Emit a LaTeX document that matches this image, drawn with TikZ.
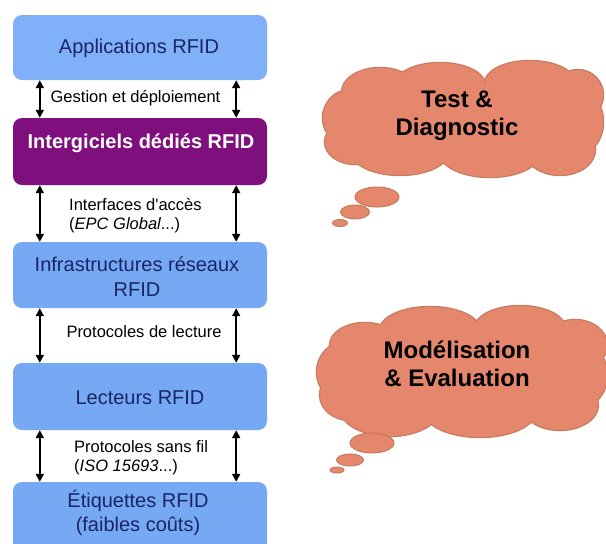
\documentclass[tikz,border=0pt]{standalone}
\usepackage{fontspec}
\setmainfont{Liberation Sans}
\usetikzlibrary{arrows.meta,shapes.geometric}
\definecolor{boxblue}{HTML}{76A9F4}
\definecolor{boxblueA}{HTML}{80B0F8}
\definecolor{boxpurple}{HTML}{7E0F7C}
\definecolor{boxtext}{HTML}{1C2466}
\definecolor{cloudfill}{HTML}{E5876D}
\definecolor{cloudline}{HTML}{C8795E}
\tikzset{
  box/.style={draw=none, fill=boxblue, rounded corners=9pt, minimum width=254pt, inner sep=0pt},
  boxtxt/.style={text=boxtext, font=\fontsize{20}{24}\selectfont, align=center, inner sep=0pt},
  boldtxt/.style={text=white, font=\fontsize{20}{24}\selectfont\bfseries, inner sep=0pt},
  lbl/.style={text=black, font=\fontsize{16.5}{19}\selectfont, inner sep=0pt},
  dbl/.style={{Triangle[width=8pt,length=8pt]}-{Triangle[width=8pt,length=8pt]}, line width=1.8pt, black},
  puffline/.style={draw=cloudline, line width=2.4pt},
  pufffill/.style={fill=cloudfill},
  bubble/.style={ellipse, fill=cloudfill, draw=cloudline, line width=1pt, inner sep=0pt},
  cloudtxt/.style={text=black, font=\fontsize{24}{28}\selectfont\bfseries, align=center, inner sep=0pt}
}
\begin{document}
\begin{tikzpicture}[x=1pt,y=-1pt]
\clip (0,0) rectangle (606,544);
\fill[white] (0,0) rectangle (606,544);
% boxes
\node[box, fill=boxblueA, minimum height=65pt] (app) at (140,47.5) {};
\node[box, fill=boxpurple, minimum height=67pt] (mid) at (140,151.5) {};
\node[box, minimum height=66pt] (infra) at (140,275) {};
\node[box, minimum height=67pt] (lect) at (140,396.5) {};
\node[box, minimum height=80pt] (etiq) at (140,522) {};
% box texts
\node[boxtxt] (tapp) at (139,48) {Applications RFID};
\node[boldtxt] (tmid) at (141,143) {Intergiciels dédiés RFID};
\node[boxtxt] (tinfra) at (137,276.5) {Infrastructures réseaux\\[1pt]RFID};
\node[boxtxt] (tlect) at (140,398) {Lecteurs RFID};
\node[boxtxt] (tetiq) at (138,512.5) {Étiquettes RFID\\[0pt](faibles coûts)};
% arrows
\foreach \a/\b in {app/mid, mid/infra, infra/lect, lect/etiq}{
  \draw[dbl] ([xshift=27pt]\a.south west) -- ([xshift=27pt]\b.north west);
  \draw[dbl] ([xshift=-31pt]\a.south east) -- ([xshift=-31pt]\b.north east);
}
% arrow labels
\node[lbl] (l1) at (135.5,98.5) {Gestion et déploiement};
\node[lbl, anchor=west, align=left] (l2) at (69,216) {Interfaces d\textquotesingle accès\\[0pt](\textit{EPC Global}...)};
\node[lbl] (l3) at (144,332) {Protocoles de lecture};
\node[lbl, anchor=west, align=left] (l4) at (74,457.5) {Protocoles sans fil\\[0pt](\textit{ISO 15693}...)};
% cloud 1 (union of puffs: outline pass, then fill pass)
\def\cloudA{350/118/27/28, 380/92/38/24, 440/85/45/22, 530/83/45/22, 578/95/25/25, 582/122/21/30, 560/150/35/25, 490/153/50/24, 400/150/50/25, 355/142/30/22}
\def\cloudB{345/372/28/30, 365/345/35/22, 430/330/50/23, 520/328/45/22, 575/345/32/25, 585/375/22/30, 560/405/38/25, 480/412/55/25, 390/408/50/28, 350/395/30/25}
\foreach \x/\y/\rx/\ry in \cloudA {\path[puffline] (\x,\y) ellipse [x radius=\rx, y radius=\ry];}
\foreach \x/\y/\rx/\ry in \cloudA {\path[pufffill] (\x,\y) ellipse [x radius=\rx, y radius=\ry];}
\fill[cloudfill] (345,85) rectangle (580,155);
\foreach \x/\y/\rx/\ry in \cloudB {\path[puffline] (\x,\y) ellipse [x radius=\rx, y radius=\ry];}
\foreach \x/\y/\rx/\ry in \cloudB {\path[pufffill] (\x,\y) ellipse [x radius=\rx, y radius=\ry];}
\fill[cloudfill] (345,335) rectangle (580,420);
% cloud texts
\node[cloudtxt] (c1t) at (457,116) {Test \&\\Diagnostic};
\node[cloudtxt] (c2t) at (457,364) {Modélisation\\\& Evaluation};
% thought bubbles
\node[bubble, minimum width=44pt, minimum height=20pt] (b11) at (377,197) {};
\node[bubble, minimum width=29pt, minimum height=14pt] (b12) at (355,212) {};
\node[bubble, minimum width=15pt, minimum height=7pt] (b13) at (340,223) {};
\node[bubble, minimum width=44pt, minimum height=20pt] (b21) at (372,443) {};
\node[bubble, minimum width=27pt, minimum height=12pt] (b22) at (350,460) {};
\node[bubble, minimum width=14pt, minimum height=6pt] (b23) at (337,470) {};
\end{tikzpicture}
\end{document}
